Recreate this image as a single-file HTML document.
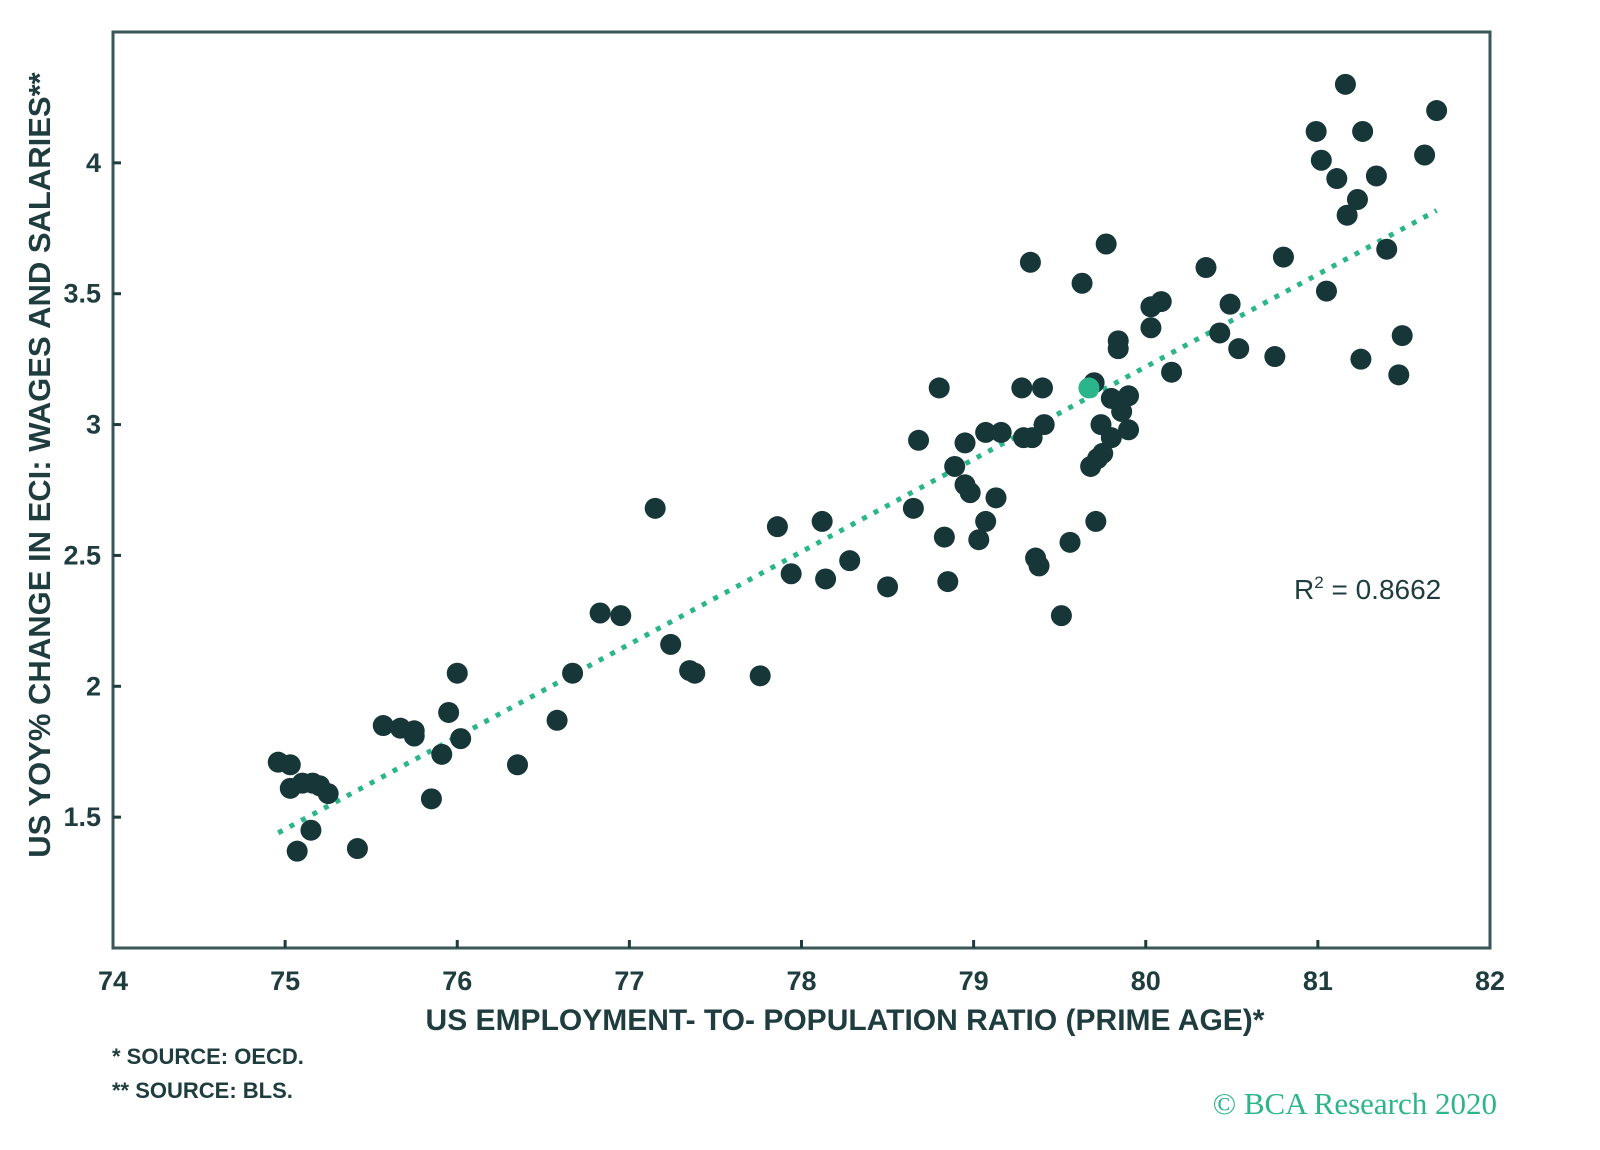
<!DOCTYPE html>
<html><head><meta charset="utf-8"><style>
html,body{margin:0;padding:0;background:#fff;width:1600px;height:1150px;overflow:hidden}
svg{display:block}
text{font-family:"Liberation Sans",sans-serif;fill:#1f3c3e}
</style></head><body>
<svg id="chart" width="1600" height="1150" viewBox="0 0 1600 1150" xmlns="http://www.w3.org/2000/svg">
<rect x="113" y="32" width="1377" height="916" fill="#fff" stroke="#3b5658" stroke-width="3"/>
<g id="ticks"></g>
<g id="trend"></g>
<g id="points"></g>
<text x="1294" y="599" font-size="28">R<tspan font-size="17" dy="-11">2</tspan><tspan dy="11"> = 0.8662</tspan></text>
<text x="845" y="1030" font-size="30" text-anchor="middle" font-weight="bold" fill="#2f4a4c">US EMPLOYMENT- TO- POPULATION RATIO (PRIME AGE)*</text>
<text transform="translate(50,465) rotate(-90)" font-size="31" text-anchor="middle" font-weight="bold" fill="#2f4a4c">US YOY% CHANGE IN ECI: WAGES AND SALARIES**</text>
<text x="112" y="1064" font-size="22" font-weight="bold" fill="#2f4a4c">*  SOURCE: OECD.</text>
<text x="112" y="1098" font-size="22" font-weight="bold" fill="#2f4a4c">** SOURCE: BLS.</text>
<text x="1497" y="1114" font-size="31" text-anchor="end" style="font-family:'Liberation Serif',serif;fill:#2bb58a">© BCA Research 2020</text>
</svg>
<script>
var xTicks=[74,75,76,77,78,79,80,81,82];
var yTicks=[1.5,2,2.5,3,3.5,4];
var yTickLabels=["1.5","2","2.5","3","3.5","4"];
var xVals=[74.96,75.03,75.03,75.1,75.16,75.2,75.25,75.07,75.15,75.42,75.57,75.67,75.75,75.75,75.85,75.91,75.95,76.0,76.02,76.35,76.58,76.67,76.83,76.95,77.15,77.24,77.35,77.38,77.76,77.86,77.94,78.12,78.14,78.28,78.5,78.65,78.68,78.8,78.83,78.85,78.89,78.95,78.95,78.98,79.03,79.07,79.07,79.13,79.16,79.28,79.33,79.29,79.34,79.36,79.38,79.4,79.41,79.51,79.56,79.63,79.7,79.68,79.72,79.75,79.71,79.74,79.77,79.8,79.84,79.84,79.86,79.9,79.9,79.8,80.03,80.03,80.09,80.15,80.35,80.43,80.49,80.54,80.75,80.8,80.99,81.02,81.05,81.11,81.16,81.17,81.23,81.26,81.25,81.34,81.4,81.49,81.47,81.62,81.69];
var yVals=[1.71,1.70,1.61,1.63,1.63,1.62,1.59,1.37,1.45,1.38,1.85,1.84,1.83,1.81,1.57,1.74,1.90,2.05,1.80,1.70,1.87,2.05,2.28,2.27,2.68,2.16,2.06,2.05,2.04,2.61,2.43,2.63,2.41,2.48,2.38,2.68,2.94,3.14,2.57,2.40,2.84,2.93,2.77,2.74,2.56,2.97,2.63,2.72,2.97,3.14,3.62,2.95,2.95,2.49,2.46,3.14,3.0,2.27,2.55,3.54,3.16,2.84,2.87,2.89,2.63,3.0,3.69,2.95,3.32,3.29,3.05,2.98,3.11,3.1,3.45,3.37,3.47,3.2,3.60,3.35,3.46,3.29,3.26,3.64,4.12,4.01,3.51,3.94,4.30,3.80,3.86,4.12,3.25,3.95,3.67,3.34,3.19,4.03,4.20];
var highlightX=[79.67];
var highlightY=[3.14];
var NS="http://www.w3.org/2000/svg";
var L=113,R=1490,T=32,B=948,X0=74,X1=82,Y0=1,Y1=4.5;
function sx(v){return L+(v-X0)/(X1-X0)*(R-L);}
function sy(v){return B-(v-Y0)/(Y1-Y0)*(B-T);}
function mk(tag,attrs,parent){var e=document.createElementNS(NS,tag);for(var k in attrs)e.setAttribute(k,attrs[k]);parent.appendChild(e);return e;}
var tg=document.getElementById('ticks');
xTicks.forEach(function(t){
  var x=sx(t);
  if(t>X0&&t<X1){var l=mk('line',{x1:x,x2:x,y1:B,y2:B-8,stroke:'#1f3c3e','stroke-width':3},tg);
  
  }
  var tx=mk('text',{x:x,y:B+42,'font-size':27,'text-anchor':'middle','font-weight':'bold'},tg);
  tx.textContent=String(t);
  
  
});
yTicks.forEach(function(t,i){
  var y=sy(t);
  var l=mk('line',{x1:L,x2:L+8,y1:y,y2:y,stroke:'#1f3c3e','stroke-width':3},tg);
  
  
  var tx=mk('text',{x:L-12,y:y+9,'font-size':27,'text-anchor':'end','font-weight':'bold'},tg);
  tx.textContent=yTickLabels[i];
  
  
});
var n=xVals.length,mx=0,my=0;
for(var i=0;i<n;i++){mx+=xVals[i];my+=yVals[i];}
mx/=n;my/=n;var sxy=0,sxx=0;
for(i=0;i<n;i++){sxy+=(xVals[i]-mx)*(yVals[i]-my);sxx+=(xVals[i]-mx)*(xVals[i]-mx);}
var b=sxy/sxx,a=my-b*mx;
var xmin=Math.min.apply(null,xVals),xmax=Math.max.apply(null,xVals);
var tl=mk('line',{x1:sx(xmin),y1:sy(a+b*xmin),x2:sx(xmax),y2:sy(a+b*xmax),stroke:'#2bb58a','stroke-width':5,'stroke-dasharray':'5 8'},document.getElementById('trend'));


var pg=document.getElementById('points');
for(i=0;i<n;i++){
  var c=mk('circle',{cx:sx(xVals[i]),cy:sy(yVals[i]),r:10.5,fill:'#173638'},pg);
  
  
}
highlightX.forEach(function(v,j){
  var c=mk('circle',{cx:sx(v),cy:sy(highlightY[j]),r:10.5,fill:'#2bb58a'},pg);
  
  
});
</script>
</body></html>
